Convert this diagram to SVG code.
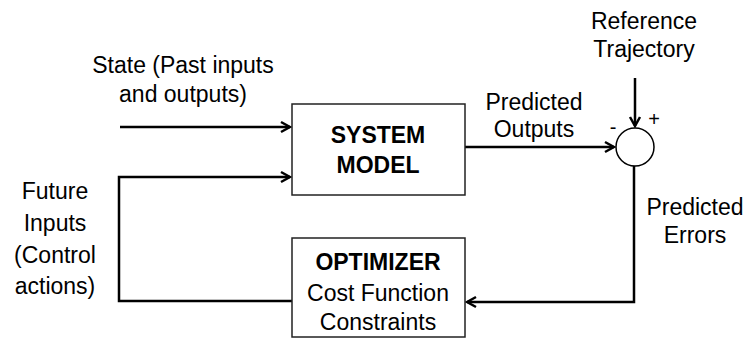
<svg xmlns="http://www.w3.org/2000/svg" width="751" height="349" viewBox="0 0 751 349">
<defs>
<marker id="arr" markerWidth="14" markerHeight="14" refX="12" refY="7" orient="auto" markerUnits="userSpaceOnUse">
<path d="M3,2 L12,7 L3,12" fill="none" stroke="#000" stroke-width="2.5"/>
</marker>
<style>
.t{font-family:"Liberation Sans",Arial,sans-serif;font-size:23px;fill:#000;text-anchor:middle}
.b{font-weight:bold}
.box{fill:#fff;stroke:#222;stroke-width:1.5}
.ln{fill:none;stroke:#000;stroke-width:2.5}
</style>
</defs>
<rect width="751" height="349" fill="#fff"/>
<g id="connectors">
<path class="ln" d="M120,127 H290" marker-end="url(#arr)"/>
<path class="ln" d="M292,301 H119 V177 H290" marker-end="url(#arr)"/>
<path class="ln" d="M465,147 H614" marker-end="url(#arr)"/>
<path class="ln" d="M635,78 V126" marker-end="url(#arr)"/>
<path class="ln" d="M634,166 V302 H467" marker-end="url(#arr)"/>
</g>
<g id="system-model">
<rect class="box" x="292" y="104" width="173" height="91"/>
<text class="t b" x="378" y="143">SYSTEM</text>
<text class="t b" x="378" y="173">MODEL</text>
</g>
<g id="optimizer">
<rect class="box" x="292" y="238" width="173" height="99"/>
<text class="t b" x="378" y="270">OPTIMIZER</text>
<text class="t" x="378" y="301">Cost Function</text>
<text class="t" x="378" y="330">Constraints</text>
</g>
<g id="sum">
<circle cx="635" cy="147" r="19" fill="#fff" stroke="#000" stroke-width="1.5"/>
<text class="t" x="613" y="134" style="font-size:20px">-</text>
<text class="t" x="654" y="126" style="font-size:20px">+</text>
</g>
<g id="labels">
<text class="t" x="183" y="73">State (Past inputs</text>
<text class="t" x="183" y="102">and outputs)</text>
<text class="t" x="55" y="199">Future</text>
<text class="t" x="55" y="231">Inputs</text>
<text class="t" x="55" y="263">(Control</text>
<text class="t" x="55" y="294">actions)</text>
<text class="t" x="534" y="110">Predicted</text>
<text class="t" x="534" y="137">Outputs</text>
<text class="t" x="644" y="29">Reference</text>
<text class="t" x="644" y="57">Trajectory</text>
<text class="t" x="695" y="215">Predicted</text>
<text class="t" x="695" y="243">Errors</text>
</g>
</svg>
